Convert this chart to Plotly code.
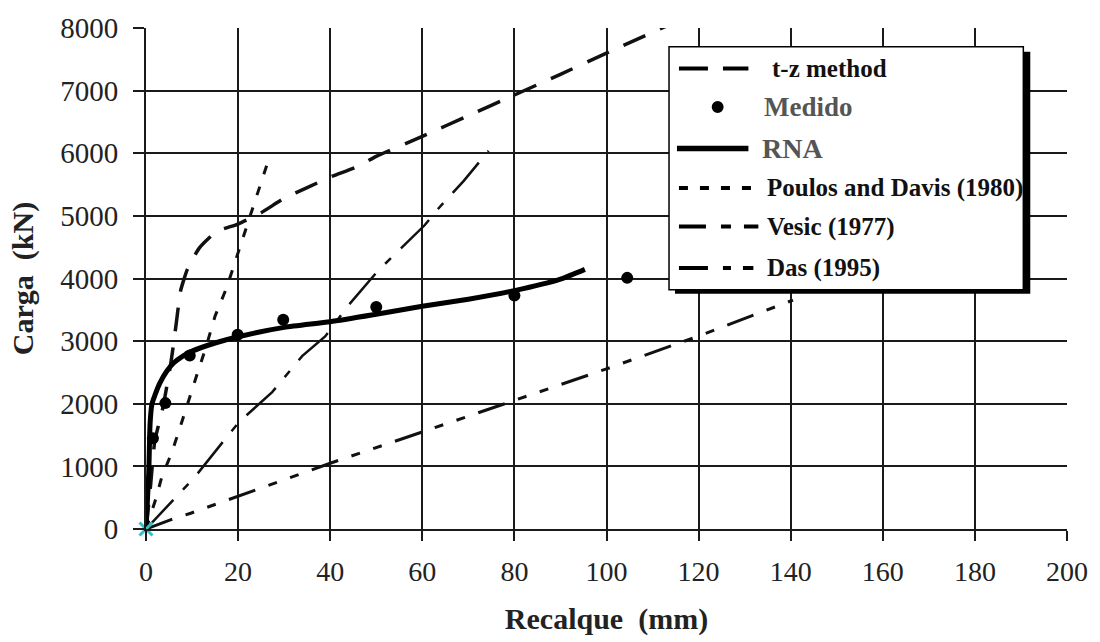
import plotly.graph_objects as go

# Load-settlement curves: settlement (mm) vs load (kN)
tz_x = [0, 1, 1.9, 3.7, 5.5, 6.6, 7.5, 9, 11.6, 15.3, 20, 25, 30, 35, 40, 46, 50, 60, 70, 80, 90, 100, 116]
tz_y = [0, 700, 1400, 1950, 2700, 3300, 3800, 4150, 4490, 4750, 4870, 5050, 5280, 5450, 5620, 5790, 5950, 6270, 6600, 6930, 7260, 7600, 8130]

medido_x = [1.5, 4.2, 9.5, 19.9, 29.8, 50, 80, 104.5]
medido_y = [1450, 2010, 2770, 3100, 3340, 3545, 3730, 4010]

rna_x = [0, 0.6, 0.9, 1.3, 2, 3, 4.5, 6, 8, 10, 15, 20, 30, 40, 50, 60, 70, 80, 90, 95.3]
rna_y = [0, 900, 1700, 2000, 2150, 2330, 2520, 2650, 2760, 2840, 2970, 3070, 3220, 3310, 3430, 3556, 3670, 3807, 3990, 4146]

poulos_x = [0, 2, 3.5, 5.5, 7.3, 9, 11, 13, 15, 17.5, 19.5, 21, 23, 24.6, 26.5]
poulos_y = [0, 450, 850, 1200, 1600, 2000, 2450, 2900, 3400, 3850, 4300, 4650, 5100, 5450, 5870]

vesic_x = [0, 10.6, 17.4, 20.3, 27.4, 33.9, 38.9, 44, 50.4, 56.2, 60.5, 63.4, 69, 74.4]
vesic_y = [0, 830, 1456, 1715, 2185, 2760, 3075, 3575, 4125, 4540, 4850, 5110, 5560, 6040]

das_x = [0, 5.3, 9.7, 14.8, 19.5, 40, 60, 80, 100, 120, 140.5]
das_y = [0, 146, 252, 385, 515, 1050, 1550, 2050, 2557, 3080, 3655]

origin_x = [0]
origin_y = [0]

x_ticks = [0, 20, 40, 60, 80, 100, 120, 140, 160, 180, 200]
y_ticks = [0, 1000, 2000, 3000, 4000, 5000, 6000, 7000, 8000]

legend_labels = ["t-z method", "Medido", "RNA", "Poulos and Davis (1980)", "Vesic (1977)", "Das (1995)"]

SERIF = "Liberation Serif"
INK = "#111111"

fig = go.Figure()

fig.add_trace(go.Scatter(x=das_x, y=das_y, mode="lines", name=legend_labels[5],
                         line=dict(color=INK, width=3, dash="28px,14px,9px,14px,9px,14px")))
fig.add_trace(go.Scatter(x=vesic_x, y=vesic_y, mode="lines", name=legend_labels[4],
                         line=dict(color=INK, width=2.5, dash="40px,14px,8px,14px")))
fig.add_trace(go.Scatter(x=poulos_x, y=poulos_y, mode="lines", name=legend_labels[3],
                         line=dict(color=INK, width=3, dash="9px,13px")))
fig.add_trace(go.Scatter(x=tz_x, y=tz_y, mode="lines", name=legend_labels[0],
                         line=dict(color=INK, width=3.5, dash="24px,16px", shape="spline", smoothing=0.5)))
fig.add_trace(go.Scatter(x=rna_x, y=rna_y, mode="lines", name=legend_labels[2],
                         line=dict(color="#000000", width=5, shape="spline", smoothing=0.6)))
fig.add_trace(go.Scatter(x=medido_x, y=medido_y, mode="markers", name=legend_labels[1],
                         marker=dict(color="#000000", size=12, symbol="circle")))
fig.add_trace(go.Scatter(x=origin_x, y=origin_y, mode="markers", showlegend=False,
                         cliponaxis=False,
                         marker=dict(symbol="x-thin", size=13, line=dict(color="#35c2c2", width=3))))

# Plot area in pixels, used to place the boxed key
X0, X1, YT, YB = 146, 1074, 28, 535


def px(x):
    return (x - X0) / (X1 - X0)


def py(y):
    return (YB - y) / (YB - YT)


shapes = []
# shadow and frame of the key
shapes.append(dict(type="rect", xref="paper", yref="paper", layer="above",
                   x0=px(679), x1=px(1037), y0=py(297), y1=py(52),
                   fillcolor="#000000", line=dict(width=0)))
shapes.append(dict(type="rect", xref="paper", yref="paper", layer="above",
                   x0=px(673), x1=px(1030), y0=py(293), y1=py(47),
                   fillcolor="#ffffff", line=dict(color="#000000", width=1.5)))

row_y = [69, 108, 150, 190, 229, 271]
samples = [
    (0, 683, 753, "29px,15px", 4),
    (2, 681, 753, "solid", 5.5),
    (3, 683, 763, "9px,12px", 4),
    (4, 683, 763, "27px,15px,10px,13px,15px", 4),
    (5, 683, 758, "29px,15px,8px,12px,11px", 4),
]
for idx, xa, xb, dash, w in samples:
    shapes.append(dict(type="line", xref="paper", yref="paper", layer="above",
                       x0=px(xa), x1=px(xb), y0=py(row_y[idx]), y1=py(row_y[idx]),
                       line=dict(color="#000000", width=w, dash=dash)))
# dot for the measured points
r = 6
shapes.append(dict(type="circle", xref="paper", yref="paper", layer="above",
                   x0=px(722 - r), x1=px(722 + r), y0=py(row_y[1] + r), y1=py(row_y[1] - r),
                   fillcolor="#000000", line=dict(color="#000000", width=0)))

annotations = []
text_x = [775, 767, 765, 770, 770, 770]
text_style = [(25, INK), (27, "#555555"), (28, "#555555"), (25, INK), (25, INK), (25, INK)]
for i, label in enumerate(legend_labels):
    size, color = text_style[i]
    annotations.append(dict(xref="paper", yref="paper", x=px(text_x[i]), y=py(row_y[i]),
                            xanchor="left", yanchor="middle", showarrow=False,
                            text="<b>%s</b>" % label,
                            font=dict(family=SERIF, size=size, color=color)))

fig.update_layout(
    width=1100, height=642,
    margin=dict(l=X0, r=1100 - X1, t=YT, b=642 - YB),
    paper_bgcolor="#ffffff", plot_bgcolor="#ffffff",
    showlegend=False,
    font=dict(family=SERIF),
    shapes=shapes,
    annotations=annotations,
    xaxis=dict(
        range=[0, 200], tickvals=x_ticks, ticktext=[str(v) for v in x_ticks],
        showgrid=True, gridcolor="#1a1a1a", gridwidth=1.5,
        showline=True, linecolor="#1a1a1a", linewidth=2,
        ticks="outside", ticklen=10, tickwidth=1.5, tickcolor="#1a1a1a",
        zeroline=False, ticklabelstandoff=6,
        tickfont=dict(family=SERIF, size=28, color="#222222"),
        title=dict(text="<b>Recalque  (mm)</b>", standoff=22,
                   font=dict(family=SERIF, size=30, color="#222222")),
    ),
    yaxis=dict(
        range=[0, 8000], tickvals=y_ticks, ticktext=[str(v) for v in y_ticks],
        showgrid=True, gridcolor="#1a1a1a", gridwidth=1.5,
        showline=True, linecolor="#1a1a1a", linewidth=2,
        ticks="outside", ticklen=11, tickwidth=1.5, tickcolor="#1a1a1a",
        zeroline=False, ticklabelstandoff=9,
        tickfont=dict(family=SERIF, size=29, color="#222222"),
        title=dict(text="<b>Carga  (kN)</b>", standoff=18,
                   font=dict(family=SERIF, size=30, color="#222222")),
    ),
)

fig.write_html("out.html")
